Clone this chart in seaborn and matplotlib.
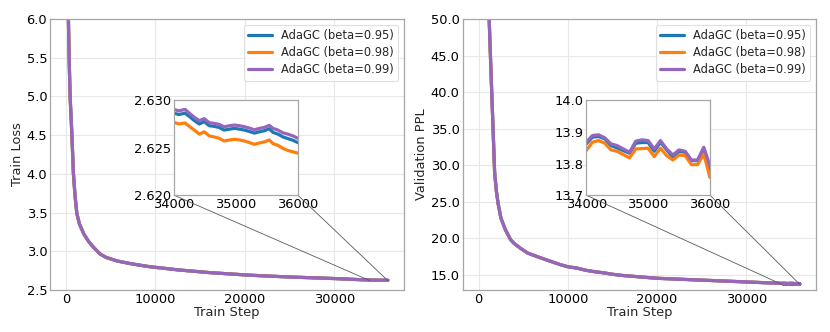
import matplotlib
matplotlib.use("Agg")
import matplotlib.pyplot as plt
import pandas as pd
import seaborn as sns
from matplotlib.lines import Line2D
from matplotlib.ticker import FormatStrFormatter
from mpl_toolkits.axes_grid1.inset_locator import mark_inset

methods = ["AdaGC (beta=0.95)", "AdaGC (beta=0.98)", "AdaGC (beta=0.99)"]
colors = ["#1f77b4", "#ff7f0e", "#9467bd"]

# ---- Train loss: shared early part (curves overlap) ----
loss_steps_early = [0, 150, 260, 350, 450, 550, 640, 820, 1000, 1200, 1500, 2000, 2500,
                    3000, 3800, 4500, 5700, 7000, 8000, 9400, 11000, 12500, 14000, 16000,
                    18000, 20000, 22000, 24000, 26000, 28000, 30000, 32000, 33000]
loss_early = [10.8, 7.3, 6.0, 5.45, 5.0, 4.75, 4.53, 4.0, 3.72, 3.49, 3.35, 3.22, 3.13,
              3.06, 2.965, 2.92, 2.875, 2.845, 2.825, 2.80, 2.78, 2.76, 2.745, 2.725,
              2.71, 2.695, 2.683, 2.673, 2.664, 2.656, 2.648, 2.638, 2.633]

# ---- Train loss: zoomed tail (34000-36000) ----
loss_steps_tail = [34000, 34080, 34180, 34250, 34330, 34410, 34490, 34570, 34650, 34730,
                   34810, 34900, 34980, 35060, 35140, 35220, 35300, 35380, 35460, 35540,
                   35600, 35680, 35760, 35840, 35920, 36000]
loss_tail_095 = [2.62864, 2.62850, 2.62864, 2.62829, 2.62786, 2.62750, 2.62775, 2.62732,
                 2.62725, 2.62714, 2.62686, 2.62696, 2.62704, 2.62696, 2.62686, 2.62671,
                 2.62654, 2.62668, 2.62679, 2.62700, 2.62661, 2.62643, 2.62614, 2.62596,
                 2.62579, 2.62554]
loss_tail_098 = [2.62768, 2.62750, 2.62761, 2.62725, 2.62686, 2.62643, 2.62668, 2.62625,
                 2.62614, 2.62600, 2.62571, 2.62582, 2.62589, 2.62582, 2.62571, 2.62554,
                 2.62536, 2.62550, 2.62561, 2.62582, 2.62543, 2.62525, 2.62493, 2.62471,
                 2.62457, 2.62443]
loss_tail_099 = [2.62904, 2.62889, 2.62904, 2.62864, 2.62821, 2.62786, 2.62807, 2.62764,
                 2.62757, 2.62746, 2.62721, 2.62732, 2.62739, 2.62732, 2.62721, 2.62707,
                 2.62689, 2.62704, 2.62714, 2.62736, 2.62704, 2.62686, 2.62657, 2.62643,
                 2.62625, 2.62600]

# ---- Validation PPL: shared early part ----
ppl_steps_early = [0, 1000, 1200, 1400, 1600, 1800, 2000, 2200, 2500, 3000, 3600, 4000,
                   4700, 5500, 6600, 8000, 9200, 10000, 11000, 12000, 13000, 14000, 15000,
                   16000, 17000, 18000, 19000, 20000, 22000, 24000, 26000, 28000, 30000,
                   32000, 33000]
ppl_early = [300.0, 60.0, 49.5, 42.5, 35.8, 29.0, 26.4, 24.7, 22.8, 21.2, 19.8, 19.3,
             18.65, 18.0, 17.5, 16.9, 16.4, 16.13, 15.95, 15.65, 15.45, 15.3, 15.1,
             14.95, 14.85, 14.75, 14.65, 14.55, 14.45, 14.35, 14.25, 14.15, 14.05,
             13.95, 13.9]

# ---- Validation PPL: zoomed tail ----
ppl_steps_tail = [34000, 34100, 34200, 34300, 34400, 34500, 34600, 34700, 34800, 34900,
                  35000, 35100, 35200, 35300, 35400, 35500, 35600, 35700, 35800, 35900,
                  36000]
ppl_tail_095 = [13.8621, 13.8834, 13.8855, 13.8780, 13.8568, 13.8494, 13.8409, 13.8324,
                13.8643, 13.8664, 13.8664, 13.8388, 13.8674, 13.8431, 13.8197, 13.8388,
                13.8356, 13.8091, 13.8091, 13.8462, 13.7720]
ppl_tail_098 = [13.8409, 13.8674, 13.8727, 13.8643, 13.8431, 13.8388, 13.8282, 13.8176,
                13.8462, 13.8473, 13.8484, 13.8218, 13.8484, 13.8250, 13.8112, 13.8271,
                13.8250, 13.7964, 13.7964, 13.8303, 13.7561]
ppl_tail_099 = [13.8674, 13.8887, 13.8908, 13.8812, 13.8621, 13.8568, 13.8462, 13.8356,
                13.8706, 13.8749, 13.8727, 13.8462, 13.8727, 13.8462, 13.8271, 13.8431,
                13.8388, 13.8112, 13.8112, 13.8515, 13.7932]

loss_ticks = [2.5, 3.0, 3.5, 4.0, 4.5, 5.0, 5.5, 6.0]
ppl_ticks = [15.0, 20.0, 25.0, 30.0, 35.0, 40.0, 45.0, 50.0]
step_ticks = [0, 10000, 20000, 30000]
inset_step_ticks = [34000, 35000, 36000]
loss_inset_ticks = [2.620, 2.625, 2.630]
ppl_inset_ticks = [13.7, 13.8, 13.9, 14.0]


def build(early_steps, early_vals, tail_steps, tails):
    rows = []
    for m, tail in zip(methods, tails):
        for s, v in zip(early_steps, early_vals):
            rows.append((m, s, v))
        for s, v in zip(tail_steps, tail):
            rows.append((m, s, v))
    return pd.DataFrame(rows, columns=["method", "step", "value"])


df_loss = build(loss_steps_early, loss_early, loss_steps_tail,
                [loss_tail_095, loss_tail_098, loss_tail_099])
df_ppl = build(ppl_steps_early, ppl_early, ppl_steps_tail,
               [ppl_tail_095, ppl_tail_098, ppl_tail_099])

sns.set_style("whitegrid")
plt.rcParams["font.family"] = ["DejaVu Sans"]

FS = 9.4
LEG_FS = 8.3
SPINE = "0.65"
GRID = "0.91"
LW = 2.3

fig = plt.figure(figsize=(8.3, 3.32), dpi=100)
W, H = 830, 332
ax1 = fig.add_axes([50 / W, 1 - 290 / H, 354 / W, 271 / H])
ax2 = fig.add_axes([462.5 / W, 1 - 290 / H, 353.5 / W, 271 / H])


def style(ax):
    for sp in ax.spines.values():
        sp.set_color(SPINE)
        sp.set_linewidth(0.9)
    ax.tick_params(length=0, pad=2, labelsize=FS, colors="black")
    ax.grid(True, color=GRID, linewidth=0.8)


def panel(ax, df, ylim, yticks, yfmt, ylabel, ins_ylim, ins_yticks, ins_fmt):
    sns.lineplot(data=df, x="step", y="value", hue="method", hue_order=methods,
                 palette=colors, linewidth=LW, estimator=None, legend=False, ax=ax)
    ax.set_ylim(*ylim)
    ax.set_yticks(yticks)
    ax.set_xticks(step_ticks)
    ax.yaxis.set_major_formatter(FormatStrFormatter(yfmt))
    ax.set_xlabel("Train Step", fontsize=FS, labelpad=0)
    ax.set_ylabel(ylabel, fontsize=FS, labelpad=2)
    style(ax)
    handles = [Line2D([], [], color=c, lw=LW) for c in colors]
    leg = ax.legend(handles, methods, loc="upper right", fontsize=LEG_FS,
                    frameon=True, fancybox=True, labelspacing=0.35,
                    handlelength=2.0)
    leg.get_frame().set_edgecolor("0.85")
    leg.get_frame().set_linewidth(0.8)

    axins = ax.inset_axes([0.35, 0.35, 0.35, 0.35])
    sns.lineplot(data=df, x="step", y="value", hue="method", hue_order=methods,
                 palette=colors, linewidth=LW, estimator=None, legend=False, ax=axins)
    axins.set_xlim(34000, 36000)
    axins.set_ylim(*ins_ylim)
    axins.set_xticks(inset_step_ticks)
    axins.set_yticks(ins_yticks)
    axins.yaxis.set_major_formatter(FormatStrFormatter(ins_fmt))
    axins.set_xlabel("")
    axins.set_ylabel("")
    style(axins)
    axins.grid(False)
    axins.set_facecolor("white")
    mark_inset(ax, axins, loc1=3, loc2=4, fc="none", ec="0.35", lw=0.6)


panel(ax1, df_loss, (2.5, 6.0), loss_ticks, "%.1f", "Train Loss",
      (2.620, 2.630), loss_inset_ticks, "%.3f")
panel(ax2, df_ppl, (12.95, 50.0), ppl_ticks, "%.1f", "Validation PPL",
      (13.7, 14.0), ppl_inset_ticks, "%.1f")

fig.savefig("out.png", dpi=100)
